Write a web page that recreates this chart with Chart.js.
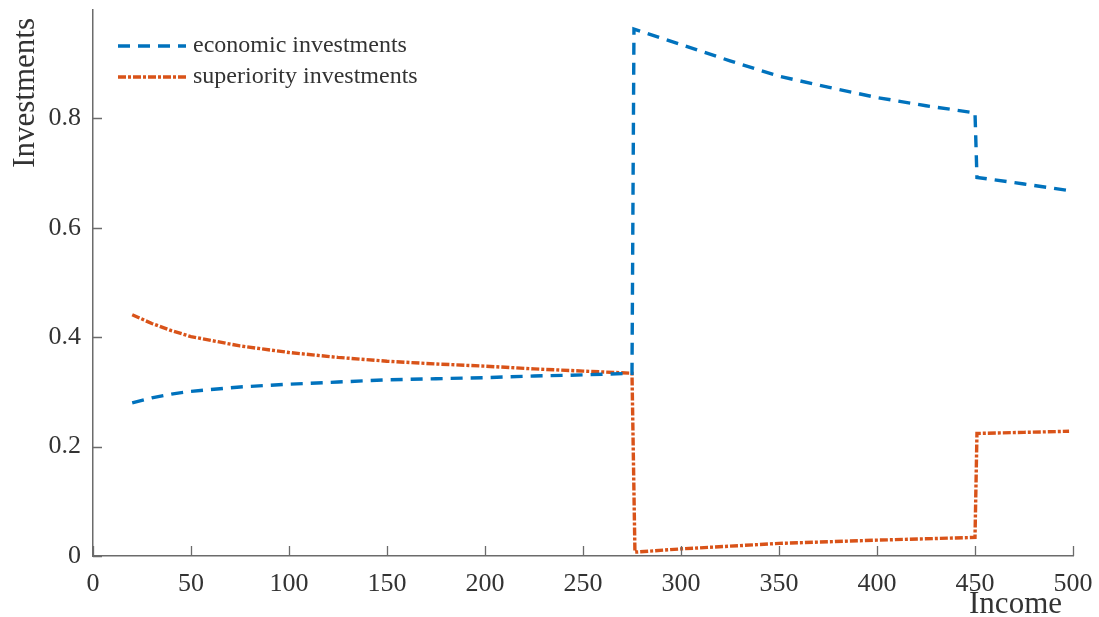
<!DOCTYPE html>
<html>
<head>
<meta charset="utf-8">
<script src="https://cdn.jsdelivr.net/npm/chart.js@4/dist/chart.umd.min.js"></script>
<style>
  html, body { margin: 0; padding: 0; background: #ffffff; }
  #wrap { width: 1099px; height: 617px; }
</style>
</head>
<body>
<div id="wrap"><canvas id="chart" width="1099" height="617"></canvas></div>
<script>
// Income levels and the resulting investment shares
const economicIncome = [20, 30, 40, 50, 75, 100, 125, 150, 175, 200, 225, 250, 275,
                        276, 300, 325, 350, 375, 400, 425, 450, 451, 475, 498];
const economicValues = [0.280, 0.289, 0.296, 0.301, 0.309, 0.314, 0.318, 0.322, 0.324, 0.326, 0.329, 0.331, 0.334,
                        0.963, 0.935, 0.905, 0.877, 0.857, 0.838, 0.823, 0.810, 0.692, 0.680, 0.668];

const superiorityIncome = [20, 30, 40, 50, 75, 100, 125, 150, 175, 200, 225, 250, 275,
                           276.5, 300, 350, 400, 450, 451, 475, 498];
const superiorityValues = [0.441, 0.425, 0.412, 0.401, 0.384, 0.372, 0.363, 0.356, 0.351, 0.347, 0.342, 0.338, 0.334,
                           0.007, 0.013, 0.023, 0.029, 0.034, 0.224, 0.226, 0.228];

const seriesNames = ['economic investments', 'superiority investments'];
const seriesColors = ['#0072BD', '#D95319'];
const xTicks = [0, 50, 100, 150, 200, 250, 300, 350, 400, 450, 500];
const yTicks = [0, 0.2, 0.4, 0.6, 0.8];
const xTitle = 'Income';
const yTitle = 'Investments';

const FONT = '"Liberation Serif", "Times New Roman", serif';
const AXIS_COLOR = '#6b6b6b';
const TEXT_COLOR = '#333333';

const toPoints = (xs, ys) => xs.map((x, i) => ({ x: x, y: ys[i] }));

// Inward tick marks, axis titles and the legend box drawn on top of the plot
const decorations = {
  id: 'decorations',
  afterDraw(chart) {
    const ctx = chart.ctx;
    const xs = chart.scales.x, ys = chart.scales.y;
    const area = chart.chartArea;
    ctx.save();
    ctx.strokeStyle = AXIS_COLOR;
    ctx.lineWidth = 1.3;
    ctx.beginPath();
    xTicks.forEach(v => {
      const px = Math.round(xs.getPixelForValue(v)) + 0.5;
      ctx.moveTo(px, area.bottom);
      ctx.lineTo(px, area.bottom - 10);
    });
    yTicks.forEach(v => {
      const py = Math.round(ys.getPixelForValue(v)) + 0.5;
      ctx.moveTo(area.left, py);
      ctx.lineTo(area.left + 9, py);
    });
    ctx.stroke();

    // axis titles
    ctx.fillStyle = TEXT_COLOR;
    ctx.font = '31px ' + FONT;
    ctx.textAlign = 'right';
    ctx.textBaseline = 'alphabetic';
    ctx.fillText(xTitle, 1062, 613);
    ctx.save();
    ctx.translate(34, 18);
    ctx.rotate(-Math.PI / 2);
    ctx.textAlign = 'right';
    ctx.fillText(yTitle, 0, 0);
    ctx.restore();

    // legend
    const rows = [46, 77];
    chart.data.datasets.forEach((ds, i) => {
      ctx.save();
      ctx.strokeStyle = ds.borderColor;
      ctx.lineWidth = ds.borderWidth;
      ctx.setLineDash(ds.borderDash);
      ctx.beginPath();
      ctx.moveTo(118, rows[i]);
      ctx.lineTo(186, rows[i]);
      ctx.stroke();
      ctx.restore();
      ctx.fillStyle = TEXT_COLOR;
      ctx.font = '24px ' + FONT;
      ctx.textAlign = 'left';
      ctx.textBaseline = 'middle';
      ctx.fillText(ds.label, 193, rows[i]);
    });
    ctx.restore();
  }
};

new Chart(document.getElementById('chart'), {
  type: 'line',
  data: {
    datasets: [
      {
        label: seriesNames[0],
        data: toPoints(economicIncome, economicValues),
        borderColor: seriesColors[0],
        borderWidth: 3.4,
        borderDash: [12, 8],
        pointRadius: 0,
        fill: false,
        tension: 0
      },
      {
        label: seriesNames[1],
        data: toPoints(superiorityIncome, superiorityValues),
        borderColor: seriesColors[1],
        borderWidth: 3.4,
        borderDash: [8, 2, 3, 2],
        pointRadius: 0,
        fill: false,
        tension: 0
      }
    ]
  },
  options: {
    responsive: false,
    animation: false,
    devicePixelRatio: 1,
    layout: { padding: { top: 10, right: 26, left: 0, bottom: 0 } },
    plugins: { legend: { display: false }, tooltip: { enabled: false } },
    scales: {
      x: {
        type: 'linear',
        min: 0,
        max: 500,
        afterFit(scale) {
          scale.height = 61;
          scale.paddingLeft = 0;
          scale.paddingRight = 0;
        },
        afterBuildTicks(scale) { scale.ticks = xTicks.map(v => ({ value: v })); },
        grid: { display: false, drawTicks: false },
        border: { display: true, color: AXIS_COLOR, width: 1.5 },
        ticks: {
          color: TEXT_COLOR,
          font: { family: FONT, size: 26 },
          padding: 13,
          maxRotation: 0,
          autoSkip: false
        }
      },
      y: {
        type: 'linear',
        min: 0,
        max: 0.998,
        afterFit(scale) {
          scale.width = 93;
          scale.paddingTop = 0;
          scale.paddingBottom = 0;
        },
        afterBuildTicks(scale) { scale.ticks = yTicks.map(v => ({ value: v })); },
        grid: { display: false, drawTicks: false },
        border: { display: true, color: AXIS_COLOR, width: 1.5 },
        ticks: {
          color: TEXT_COLOR,
          font: { family: FONT, size: 26 },
          padding: 12,
          autoSkip: false,
          callback: v => String(Math.round(v * 10) / 10)
        }
      }
    }
  },
  plugins: [decorations]
});
</script>
</body>
</html>
